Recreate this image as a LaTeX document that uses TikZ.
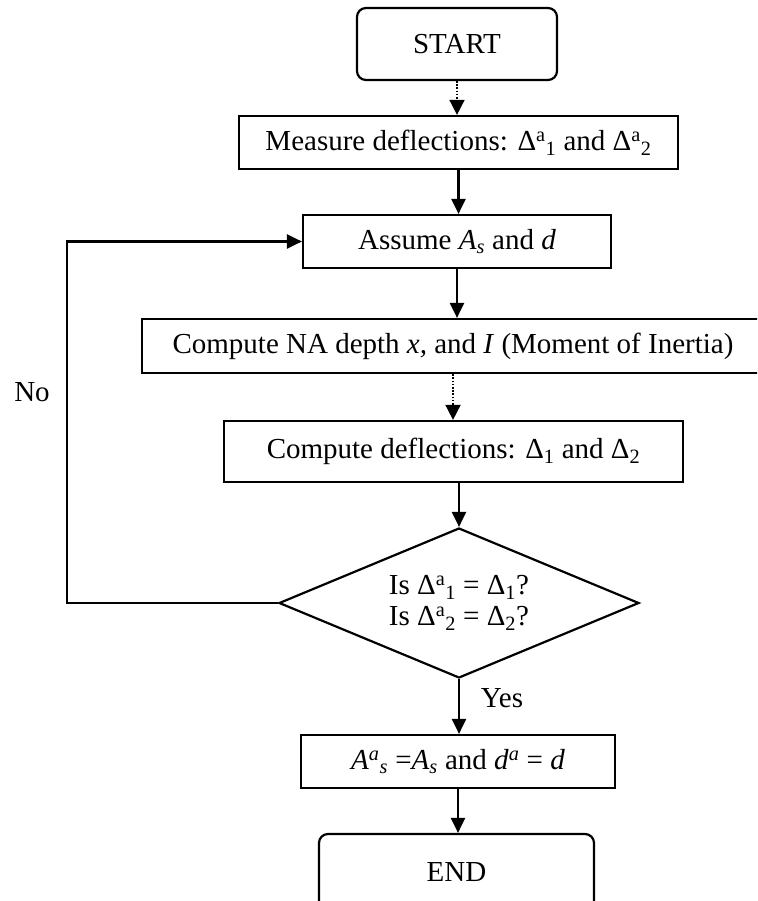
\documentclass[tikz,border=0pt]{standalone}
\usepackage{fontspec}
\setmainfont{Liberation Serif}
\usetikzlibrary{arrows.meta,shapes.geometric}
\tikzset{
  box/.style={draw, line width=2.2pt, minimum width=#1, inner sep=0pt, align=center},
  rbox/.style={draw, line width=2.2pt, rounded corners=9pt, inner sep=0pt, align=center},
  arr/.style={line width=2.2pt, -{Triangle[width=14pt,length=15pt]}},
  darr/.style={line width=1.6pt, dash pattern=on 1.6pt off 1.6pt, -{Triangle[width=15pt,length=15pt]}},
  lbl/.style={inner sep=0pt}
}
\begin{document}
\begin{tikzpicture}[x=1pt,y=-1pt,font=\fontsize{29}{31}\selectfont]
\useasboundingbox (0,0) rectangle (757,901);
\clip (0,0) rectangle (757,901);
\node[rbox, minimum width=200pt, minimum height=72pt] (start) at (457,44) {START};
\node[box=439pt, minimum height=53pt] (measure) at (458.5,142.5)
  {Measure deflections: Δ\textsuperscript{a}\textsubscript{1} and Δ\textsuperscript{a}\textsubscript{2}};
\node[box=308pt, minimum height=53pt] (assume) at (457,241.5)
  {Assume \textit{A}\textsubscript{\textit{s}} and \textit{d}};
\node[box=622pt, minimum height=54pt] (na) at (453,346)
  {Compute NA depth \textit{x,} and \textit{I} (Moment of Inertia)};
\node[box=459pt, minimum height=61pt] (defl) at (453.5,451.5)
  {Compute deflections: Δ\textsubscript{1} and Δ\textsubscript{2}};
\node[draw, line width=2.2pt, shape=diamond, aspect=2.4, inner sep=0pt,
      minimum width=360pt, minimum height=150pt, align=center] (dia) at (459,603)
  {Is Δ\textsuperscript{a}\textsubscript{1} = Δ\textsubscript{1}?\\Is Δ\textsuperscript{a}\textsubscript{2} = Δ\textsubscript{2}?};
\node[box=314pt, minimum height=53pt] (final) at (458,761.5)
  {\textit{A}\textsuperscript{\textit{a}}\textsubscript{\textit{s}} =\textit{A}\textsubscript{\textit{s}} and \textit{d}\textsuperscript{\textit{a}} = \textit{d}};
\node[rbox, minimum width=275pt, minimum height=76pt] (end) at (456.5,872) {END};
\node[lbl] (no) at (32,392) {No};
\node[lbl] (yes) at (502,698) {Yes};
\coordinate (loopc) at (67,603);
\draw[darr] (start.south) -- (start.south |- measure.north);
\draw[arr] (measure.south) -- (measure.south |- assume.north);
\draw[arr] (assume.south) -- (assume.south |- na.north);
\draw[darr] (na.south) -- (na.south |- defl.north);
\draw[arr] (dia.north |- defl.south) -- (dia.north);
\draw[arr] (dia.south) -- (dia.south |- final.north);
\draw[arr] (final.south) -- (final.south |- end.north);
\draw[arr] (dia.west) -- (loopc) |- (assume.west);
\end{tikzpicture}
\end{document}
